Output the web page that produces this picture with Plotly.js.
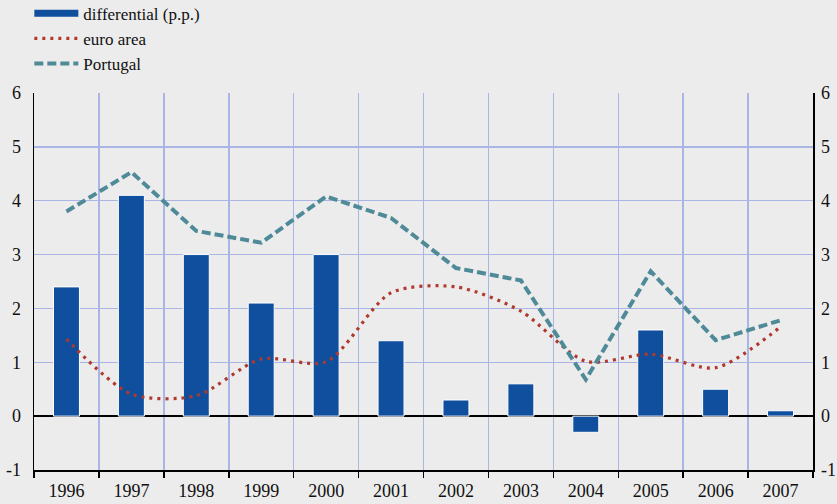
<!DOCTYPE html>
<html>
<head>
<meta charset="utf-8">
<script src="https://cdn.plot.ly/plotly-3.0.1.min.js"></script>
<style>
  html, body { margin: 0; padding: 0; background: #ececec; }
  #chart { width: 837px; height: 504px; }
</style>
</head>
<body>
<div id="chart"></div>
<script>
const years = ['1996', '1997', '1998', '1999', '2000', '2001', '2002', '2003', '2004', '2005', '2006', '2007'];
const differential = [2.4, 4.1, 3.0, 2.1, 3.0, 1.4, 0.3, 0.6, -0.3, 1.6, 0.5, 0.1];
const euroArea = [1.43, 0.41, 0.38, 1.06, 1.01, 2.29, 2.40, 1.95, 1.02, 1.15, 0.90, 1.66];
const portugal = [3.80, 4.53, 3.44, 3.22, 4.08, 3.68, 2.75, 2.52, 0.68, 2.69, 1.41, 1.78];
const yTicks = [-1, 0, 1, 2, 3, 4, 5, 6];
const yTickText = ['-1', '0', '1', '2', '3', '4', '5', '6'];

const navy = '#0f4f9e';
const red = '#b0392e';
const teal = '#4f8a99';
const grid = '#a9b5e5';
const font = "'Liberation Serif', 'Times New Roman', serif";

const traces = [
    {
        x: years, y: differential, type: 'bar', width: 0.4,
        marker: { color: navy, line: { color: '#ffffff', width: 1 } },
        showlegend: false, hoverinfo: 'skip'
    },
    // legend entry for the bars, drawn as a thick line like the original
    {
        x: [null], y: [null], type: 'scatter', mode: 'lines',
        name: 'differential (p.p.)', line: { color: navy, width: 7 }
    },
    {
        x: years, y: euroArea, type: 'scatter', mode: 'lines', name: 'euro area',
        line: { color: red, width: 3.2, dash: '3px,5px', shape: 'spline', smoothing: 0.8 }
    },
    {
        x: years, y: portugal, type: 'scatter', mode: 'lines', name: 'Portugal',
        line: { color: teal, width: 4, dash: '9px,4px' }
    },
    // invisible trace to carry the right-hand axis
    {
        x: years, y: portugal, yaxis: 'y2', type: 'scatter', mode: 'lines',
        line: { width: 0 }, showlegend: false, hoverinfo: 'skip', opacity: 0
    }
];

const layout = {
    width: 837, height: 504,
    paper_bgcolor: '#ececec', plot_bgcolor: '#ececec',
    font: { family: font, size: 18, color: '#111111' },
    margin: { l: 34, r: 24, t: 93, b: 34, autoexpand: false },
    showlegend: true,
    legend: {
        x: -0.006, xref: 'paper', xanchor: 'left', y: 1.258, yref: 'paper', yanchor: 'top',
        bgcolor: 'rgba(0,0,0,0)', itemwidth: 44, tracegroupgap: 0,
        font: { family: font, size: 17 }
    },
    xaxis: {
        type: 'category', tickson: 'boundaries',
        showgrid: true, gridcolor: grid, gridwidth: 1.5,
        ticks: 'outside', ticklen: 6, tickcolor: '#000000', tickwidth: 1.5,
        showline: true, linecolor: '#000000', linewidth: 1.5,
        range: [-0.5, 11.5], fixedrange: true, ticklabelstandoff: 4
    },
    yaxis: {
        range: [-1, 6], tickvals: yTicks, ticktext: yTickText, ticks: '',
        showgrid: true, gridcolor: grid, gridwidth: 1.5,
        zeroline: true, zerolinecolor: '#000000', zerolinewidth: 2,
        showline: true, linecolor: '#000000', linewidth: 1.5,
        ticklabelstandoff: 8
    },
    yaxis2: {
        range: [-1, 6], tickvals: yTicks, ticktext: yTickText, overlaying: 'y', side: 'right',
        showgrid: false, zeroline: false, ticks: '',
        showline: true, linecolor: '#000000', linewidth: 1.5,
        ticklabelstandoff: 3
    }
};

Plotly.newPlot('chart', traces, layout, { displayModeBar: false, staticPlot: true });
</script>
</body>
</html>
